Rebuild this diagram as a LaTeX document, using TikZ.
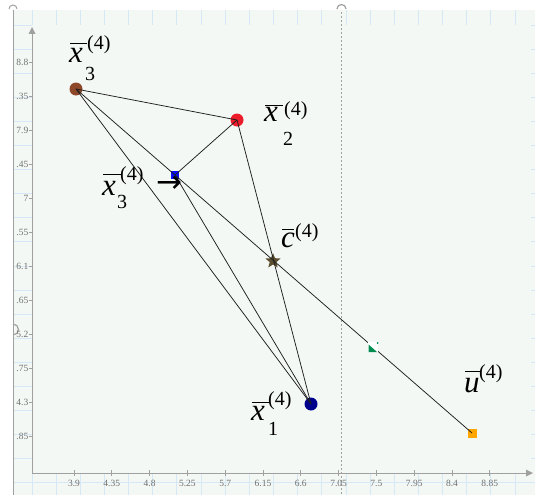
\documentclass[tikz,border=0pt]{standalone}
\usepackage{fontspec}
\setmainfont{Liberation Serif}
\newfontfamily\arrowfont{DejaVu Sans}
\usetikzlibrary{shapes.geometric}
\definecolor{bgc}{RGB}{244,248,245}
\definecolor{gridc}{RGB}{214,232,246}
\definecolor{axisc}{RGB}{160,160,160}
\definecolor{tickc}{RGB}{112,112,112}
\definecolor{brownc}{RGB}{140,72,40}
\definecolor{redc}{RGB}{236,28,42}
\definecolor{bluec}{RGB}{10,10,250}
\definecolor{starc}{RGB}{92,78,48}
\definecolor{greenc}{RGB}{0,140,80}
\definecolor{navyc}{RGB}{0,0,140}
\definecolor{orangec}{RGB}{255,166,0}
\definecolor{linec}{RGB}{30,30,30}
\tikzset{
  ln/.style={draw=linec, line width=0.75pt},
  ticklbl/.style={font=\fontsize{9.5}{9.5}\selectfont, text=tickc, inner sep=0},
  bigl/.style={font=\fontsize{31}{31}\selectfont\itshape, inner sep=0, anchor=base west},
  scr/.style={font=\fontsize{20}{20}\selectfont, inner sep=0, anchor=base west},
  barl/.style={draw=black, line width=1pt},
  dot/.style={circle, inner sep=0, minimum size=13pt},
  sq/.style={rectangle, inner sep=0, minimum size=9pt}
}
\begin{document}
\begin{tikzpicture}[x=1pt,y=-1pt]
\useasboundingbox (0,0) rectangle (535,495);
\fill[white] (0,0) rectangle (535,495);
% panel background and grid
\fill[bgc] (13,10) rectangle (535,495);
\foreach \i in {0,...,20} \draw[gridc, line width=0.9pt] ({32+24.15*\i},10) -- ({32+24.15*\i},495);
\foreach \k in {0,...,19} \draw[gridc, line width=0.9pt] (13,{25+24.1*\k}) -- (535,{25+24.1*\k});
\fill[bgc] (32,25.5) rectangle (531,472.5);
% frame line and handles
\draw[axisc, line width=0.9pt] (13,10) -- (13,495);
\draw[axisc, line width=1pt] (9,9) arc (180:360:4);
\draw[axisc, line width=1.2pt] (13,335) arc (90:-90:5.5);
% dashed vertical marker line
\draw[axisc, line width=0.9pt, dash pattern=on 2pt off 2pt] (341.5,12) -- (341.5,495);
\draw[axisc, line width=1.2pt] (337,9) arc (180:360:4.5);
% axes
\draw[axisc, line width=0.9pt] (32,473) -- (32,31);
\fill[axisc] (28.5,34) -- (35.5,34) -- (32,27) -- cycle;
\draw[axisc, line width=0.9pt] (32,473) -- (528,473);
\fill[axisc] (526,469.5) -- (526,476.5) -- (533,473) -- cycle;
% y ticks
\foreach \lab [count=\j from 0] in {8.8,.35,7.9,.45,7,.55,6.1,.65,5.2,.75,4.3,.85} {
  \draw[axisc, line width=0.8pt] (29,{62+34*\j}) -- (33,{62+34*\j});
  \node[ticklbl, anchor=east] (yt\j) at (28.5,{62+34*\j}) {\lab};
}
% x ticks
\foreach \lab [count=\i from 0] in {3.9,4.35,4.8,5.25,5.7,6.15,6.6,7.05,7.5,7.95,8.4,8.85} {
  \draw[axisc, line width=0.8pt] ({74+37.8*\i},470) -- ({74+37.8*\i},476);
  \node[ticklbl] (xt\i) at ({74+37.8*\i},483.5) {\lab};
}
% markers
\node[dot, fill=brownc] (p3) at (76,89) {};
\node[dot, fill=redc] (p2) at (237,120) {};
\node[dot, fill=navyc] (p1) at (311,404) {};
\node[sq, fill=bluec, minimum size=8.5pt] (q) at (175,175) {};
\node[sq, fill=orangec] (u) at (472,433) {};
\node[star, star points=5, star point ratio=2.3, fill=starc, minimum size=16pt, inner sep=0] (c) at (273,261) {};
% connectors
\draw[ln] (p3.center) -- (p2.center);
\draw[ln] (p3.center) -- (p1.center);
\draw[ln] (p2.center) -- (p1.center);
\draw[ln] (p2.center) -- (q.center);
\draw[ln] (q.center) -- (p1.center);
\draw[ln] (p3.center) -- (u.center);
% green (reflection) marker on top
\node[rectangle, fill=white, minimum size=10pt, inner sep=0] (r) at (373,347) {};
\fill[greenc] (368.5,344.5) -- (368.5,352) -- (377,352) -- cycle;
\fill[greenc] (377.5,343) circle (1pt);
% labels
\node[bigl] (a3) at (69,63) {x};
\draw[barl] (70,43.5) -- (87,43.5);
\node[scr] (a3s) at (87,49) {(4)};
\node[scr] (a3i) at (85,80) {3};

\node[bigl] (b3) at (102,195) {x};
\draw[barl] (103,174) -- (121,174);
\node[scr] (b3s) at (120,180) {(4)};
\node[scr] (b3i) at (117,208) {3};
\node[font=\arrowfont\fontsize{31}{31}\selectfont, inner sep=0, anchor=west] (arr) at (156,184) {→};

\node[bigl] (a2) at (264,121) {x};
\draw[barl] (265,105.5) -- (283,105.5);
\node[scr] (a2s) at (284,115) {(4)};
\node[scr] (a2i) at (283,145) {2};

\node[bigl] (ac) at (281,247) {c};
\draw[barl] (282,229.5) -- (294,229.5);
\node[scr] (acs) at (295,237) {(4)};

\node[bigl] (a1) at (251,420) {x};
\draw[barl] (252,402.5) -- (269,402.5);
\node[scr] (a1s) at (268,405) {(4)};
\node[scr] (a1i) at (268,435) {1};

\node[bigl] (au) at (464,392) {u};
\draw[barl] (465,371.5) -- (480,371.5);
\node[scr] (aus) at (479,378) {(4)};
\end{tikzpicture}
\end{document}
